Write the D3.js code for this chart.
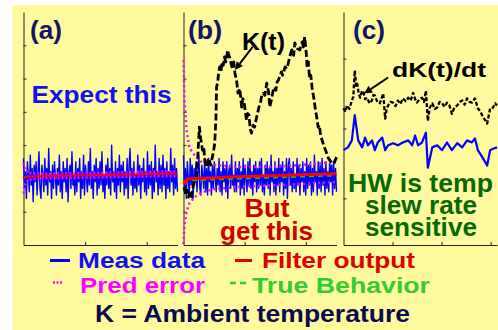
<!DOCTYPE html>
<html>
<head>
<meta charset="utf-8">
<script src="https://cdn.jsdelivr.net/npm/d3@7"></script>
<style>
  body { margin: 0; background: #fff; }
  svg { display: block; }
  text { font-family: "Liberation Sans", Arial, sans-serif; font-weight: bold; }
</style>
</head>
<body>
<div id="chart"></div>
<script>
// panel (a): expected behaviour
const measA = [0.6,-0.3,0.2,-0.6,0.5,0.1,-0.4,0.7,-0.2,0.3,-0.7,0.4,-0.1,0.5,-0.5,0.2,0.8,-0.3,-0.6,0.4,
  0.1,-0.4,0.6,-0.2,0.3,-0.5,0.9,-0.1,0.2,-0.6,0.4,-0.3,0.5,0.0,-0.5,0.3,-0.2,0.7,-0.4,0.2,
  -0.6,0.5,-0.1,0.3,-0.4,0.6,-0.7,0.2,0.4,-0.3,0.8,-0.2,0.1,-0.5,0.5,-0.4,0.3,-0.1,0.6,-0.6,
  0.2,-0.3,0.7,-0.5,0.4,0.0,-0.4,0.5,-0.2,0.9,-0.3,0.2,-0.6,0.4,-0.1,0.6,-0.5,0.3,-0.3,0.5,
  -0.2,0.8,-0.4,0.1,-0.6,0.4,-0.2,0.6,-0.3,0.3,-0.5,1.0,-0.1,0.2,-0.4,0.5,-0.6,0.3,-0.2,0.7,
  -0.4,0.4,-0.1,0.5,-0.5,0.2,-0.3,0.6,-0.6,0.4,0.9,-0.2,0.3,-0.5,0.5,-0.3,0.1,-0.4,0.7,-0.2,
  0.4,-0.6,0.3,-0.1,0.6,-0.4,0.2,-0.5,0.8,-0.3,0.4,-0.2,0.5,-0.6,0.3,-0.4,1.0,-0.1,0.2,-0.5,
  0.6,-0.3,0.4,-0.4,0.7,-0.2,0.3,-0.6,0.5,-0.3,0.2,-0.4,0.9,-0.1,0.4,-0.5,0.6,-0.3,0.3,-0.4];
const envT_A = [0, 3, 8, 15, 30, 60, 100, 150, 200, 250];
const predUpA = [0.45, 0.25, 0.17, 0.15, 0.14, 0.15, 0.16, 0.18, 0.2, 0.21];
const predLoA = [-0.45, -0.15, -0.05, -0.02, 0, 0.01, 0.02, 0.04, 0.06, 0.07];
const filtA = [0, 0.05, 0.06, 0.06, 0.07, 0.08, 0.09, 0.11, 0.13, 0.14];

// panel (b): what we got
const measB = [0.7,-0.4,0.3,-0.6,0.5,0.0,-0.5,0.6,-0.2,0.4,-0.6,0.3,-0.1,0.5,-0.4,0.2,0.7,-0.3,-0.5,0.4,
  0.1,-0.3,0.6,-0.4,0.3,-0.5,0.6,-0.1,0.2,-0.5,0.4,-0.3,0.5,0.0,-0.4,0.3,-0.2,0.6,-0.4,0.2,
  -0.5,0.5,-0.1,0.3,-0.4,0.5,-0.6,0.2,0.4,-0.3,0.7,-0.2,0.1,-0.4,0.5,-0.4,0.3,-0.1,0.5,-0.5,
  0.2,-0.3,0.6,-0.5,0.4,0.0,-0.4,0.5,-0.2,0.6,-0.3,0.2,-0.5,0.4,-0.1,0.5,-0.4,0.3,-0.3,0.5,
  -0.2,0.6,-0.4,0.1,-0.5,0.4,-0.2,0.5,-0.3,0.3,-0.5,0.7,-0.1,0.2,-0.4,0.5,-0.5,0.3,-0.2,0.6,
  -0.4,0.4,-0.1,0.5,-0.5,0.2,-0.3,0.6,-0.6,0.4,0.6,-0.2,0.3,-0.4,0.5,-0.3,0.1,-0.4,0.6,-0.2,
  0.4,-0.5,0.3,-0.1,0.5,-0.4,0.2,-0.5,0.6,-0.3,0.4,-0.2,0.5,-0.5,0.3,-0.4,0.7,-0.1,0.2,-0.5,
  0.5,-0.3,0.4,-0.4,0.6,-0.2,0.3,-0.5,0.5,-0.3,0.2,-0.4,0.6,-0.1,0.4,-0.5,0.5,-0.3,0.3,-0.4];
const kT = [1, 4, 6, 8, 10, 13, 15, 18, 21, 23, 24, 26, 28, 29, 31, 33, 35, 38, 40, 42, 44, 46, 49, 51, 53, 54,
  56, 57, 59, 61, 63, 65, 67, 69, 70, 72, 74, 76, 79, 82, 84, 87, 89, 92, 95, 97, 99, 101, 103, 105, 107,
  109, 111, 114, 116, 119, 121, 124, 126, 128, 130, 133, 136, 139, 141, 143, 145, 147, 149, 151, 153, 155,
  157, 160, 162, 166, 169, 173, 175, 177, 180, 182, 184, 186, 190, 194, 196, 198, 200, 202, 204, 206, 208,
  210, 213, 215, 218, 220, 222, 224, 228, 231, 234, 237, 239, 243, 246, 250];
const kVal = [-0.26, -0.5, -0.35, -0.56, -0.45, -0.6, -0.3, -0.1, 0.04, 0.5, 0.9, 1.54, 1.2, 1.1, 0.85, 0.95,
  0.5, 0.34, 0.55, 0.6, 0.4, 0.55, 0.8, 1.06, 1.8, 2.74, 2.9, 3.1, 3.35, 3.2, 3.5, 3.4, 3.65, 3.5, 3.55,
  3.86, 3.7, 3.6, 3.35, 3.5, 3.17, 2.9, 2.56, 2.7, 2.14, 2.4, 2.3, 2.0, 1.75, 1.95, 1.9, 1.5, 1.36, 1.6,
  1.54, 1.8, 1.96, 2.2, 2.3, 2.5, 2.56, 2.5, 2.86, 2.6, 2.14, 2.3, 2.5, 2.7, 2.74, 2.65, 2.9, 2.95, 3.05,
  3.2, 3.1, 3.35, 3.3, 3.6, 3.75, 3.86, 3.7, 4.07, 3.95, 3.9, 3.86, 4.1, 3.95, 4.25, 3.9, 3.35, 3.5, 3.0,
  3.1, 2.74, 2.4, 2.14, 1.8, 1.54, 1.6, 1.3, 1.06, 0.9, 0.76, 0.6, 0.55, 0.45, 0.46, 0.64];
const envT_B = [0, 1.6, 4.9, 9.8, 18, 31, 51, 92, 108, 157, 190, 250];
const predUpB = [3.55, 2.35, 1.45, 0.91, 0.7, 0.46, 0.4, 0.34, 0.34, 0.36, 0.4, 0.5];
const predLoB = [-1.97, -1.4, -1.0, -0.74, -0.56, -0.41, -0.32, -0.25, -0.23, -0.2, -0.17, -0.11];
const filtT_B = [0, 3, 6, 50, 100, 150, 200, 250];
const filtB = [-0.1, -0.15, -0.02, 0.02, 0.06, 0.09, 0.12, 0.14];
const trueB = [-0.1, -0.1, -0.06, -0.03, 0.0, 0.03, 0.06, 0.09];

// panel (c): hardware output vs temperature slew rate
const cT = [0, 9, 17, 23, 30, 38, 44, 50, 58, 64, 70, 79, 85, 91, 101, 111, 121, 132, 140, 146, 152, 160,
  168, 172, 181, 191, 201, 211, 221, 232, 242, 252, 262, 268, 274, 283, 293, 299, 305, 313];
const hwC = [0.69, 0.73, 0.83, 1.19, 0.83, 0.73, 0.87, 0.76, 0.83, 0.69, 0.8, 0.87, 0.69, 0.76, 0.79, 0.76,
  0.8, 0.83, 0.76, 0.9, 0.76, 0.8, 0.94, 0.44, 0.73, 0.76, 0.69, 0.8, 0.69, 0.79, 0.73, 0.83, 0.8, 0.86,
  0.69, 0.59, 0.47, 0.69, 0.71, 0.73];
const dkT = [0, 4, 7, 12, 17, 20, 23, 26, 28, 31, 34, 37, 40, 44, 48, 53, 58, 61, 64, 69, 74, 78, 81, 85,
  88, 91, 96, 101, 106, 111, 116, 121, 127, 132, 137, 142, 146, 150, 155, 160, 164, 168, 172, 176, 181,
  186, 191, 196, 201, 206, 211, 216, 221, 226, 232, 237, 242, 247, 252, 257, 262, 268, 274, 279, 285, 289,
  293, 299, 305, 309, 313];
const dkC = [1.29, 1.24, 1.33, 1.28, 1.4, 1.45, 1.83, 1.6, 1.64, 1.5, 1.44, 1.52, 1.54, 1.42, 1.44, 1.36,
  1.4, 1.48, 1.47, 1.38, 1.36, 1.44, 1.5, 1.14, 1.28, 1.33, 1.38, 1.37, 1.32, 1.4, 1.35, 1.43, 1.39, 1.44,
  1.4, 1.51, 1.42, 1.37, 1.42, 1.44, 1.38, 1.54, 1.11, 1.3, 1.36, 1.28, 1.3, 1.38, 1.36, 1.31, 1.37,
  1.33, 1.21, 1.3, 1.33, 1.38, 1.4, 1.34, 1.43, 1.38, 1.37, 1.43, 1.29, 1.24, 1.16, 1.12, 1.07, 1.29,
  1.3, 1.36, 1.33];

const W = 498, H = 330;
const navy = '#141464';

const svg = d3.select('#chart')
  .append('svg')
  .attr('width', W)
  .attr('height', H);

svg.append('rect')
  .attr('x', 12.5).attr('y', 5)
  .attr('width', W - 12.5).attr('height', H - 5)
  .attr('fill', '#fffa9e');

const plotTop = 12, plotBottom = 245;

function makePanel(x0, x1, xMax, xTicks, yDom, yTicks) {
  const x = d3.scaleLinear().domain([0, xMax]).range([x0, x1]);
  const y = d3.scaleLinear().domain(yDom).range([plotBottom, plotTop]);
  const g = svg.append('g');
  g.append('g')
    .attr('transform', `translate(${x0},0)`)
    .call(d3.axisLeft(y).tickValues(yTicks).tickSizeInner(-3).tickSizeOuter(0).tickFormat(''));
  g.append('g')
    .attr('transform', `translate(0,${plotBottom})`)
    .call(d3.axisBottom(x).tickValues(xTicks).tickSizeInner(-3).tickSizeOuter(0).tickFormat(''));
  g.selectAll('.domain, .tick line').attr('stroke', '#222');
  return { x, y, g };
}

function drawLine(p, ts, vs, color, width, dash) {
  const line = d3.line().x((d, i) => p.x(ts[i])).y(d => p.y(d));
  p.g.append('path')
    .datum(vs)
    .attr('d', line)
    .attr('fill', 'none')
    .attr('stroke', color)
    .attr('stroke-width', width)
    .attr('stroke-linejoin', 'round')
    .attr('stroke-dasharray', dash || null);
}

function noiseT(vs, xMax) {
  return vs.map((d, i) => i * xMax / (vs.length - 1));
}

// (a)
const pa = makePanel(23.5, 177.5, 250, [100, 200], [-2, 5], [-1, 0, 1, 2, 3, 4]);
drawLine(pa, noiseT(measA, 250), measA, '#0000ff', 1.4);
drawLine(pa, envT_A, filtA, '#ff0000', 2);
drawLine(pa, envT_A, predUpA, '#ff00ff', 2.5, '2,2');
drawLine(pa, envT_A, predLoA, '#ff00ff', 2.5, '2,2');

// (b)
const pb = makePanel(183.5, 336.5, 250, [100, 200], [-2, 5], [-1, 0, 1, 2, 3, 4]);
drawLine(pb, noiseT(measB, 250), measB, '#0000ff', 1.4);
drawLine(pb, envT_B, predUpB, '#ff00ff', 2.5, '2,3');
drawLine(pb, envT_B, predLoB, '#ff00ff', 2.5, '2,3');
drawLine(pb, kT, kVal, '#000', 2.8, '7,3');
drawLine(pb, filtT_B, trueB, '#22bb22', 2, '5,4');
drawLine(pb, filtT_B, filtB, '#ff0000', 3);

// (c)
const pc = makePanel(343.5, 497, 313, [100, 200, 300], [-2 / 3, 8 / 3], [0, 1, 2]);
drawLine(pc, cT, hwC, '#0000ff', 2.2);
drawLine(pc, dkT, dkC, '#000', 2.3, '4,2');

// text helper
function label(x, y, str, size, color, width, anchor) {
  svg.append('text')
    .attr('x', x).attr('y', y)
    .attr('font-size', size)
    .attr('fill', color)
    .attr('text-anchor', anchor || 'start')
    .attr('textLength', width)
    .attr('lengthAdjust', 'spacingAndGlyphs')
    .text(str);
}

function arrow(p, t0, v0, t1, v1) {
  const xA = p.x(t0), yA = p.y(v0), xB = p.x(t1), yB = p.y(v1);
  const ang = Math.atan2(yB - yA, xB - xA);
  const L = 8, Wd = 4;
  const bx = xB - L * Math.cos(ang), by = yB - L * Math.sin(ang);
  svg.append('line')
    .attr('x1', xA).attr('y1', yA).attr('x2', bx).attr('y2', by)
    .attr('stroke', '#000').attr('stroke-width', 2);
  svg.append('path')
    .attr('d', `M${xB},${yB}L${bx - Wd * Math.sin(ang)},${by + Wd * Math.cos(ang)}L${bx + Wd * Math.sin(ang)},${by - Wd * Math.cos(ang)}Z`)
    .attr('fill', '#000');
}

label(30, 39, '(a)', 26, navy, 32);
label(188, 39, '(b)', 26, navy, 34);
label(353, 39, '(c)', 26, navy, 32);

label(31.5, 103, 'Expect this', 24, '#1010f0', 140);

label(242, 50, 'K(t)', 24, '#000', 43);
arrow(pb, 113, 3.95, 84, 3.26);

label(267, 217, 'But', 26, '#cc0000', 45, 'middle');
label(266.5, 240, 'get this', 26, '#cc0000', 93, 'middle');

label(392, 76.5, 'dK(t)/dt', 21, '#000', 94);
arrow(pc, 91, 1.73, 42, 1.5);

label(420.5, 192, 'HW is temp', 26, '#066906', 145, 'middle');
label(421, 214, 'slew rate', 25, '#066906', 112, 'middle');
label(421, 235.5, 'sensitive', 25, '#066906', 112, 'middle');

// legend
svg.append('line').attr('x1', 50).attr('x2', 70).attr('y1', 260.5).attr('y2', 260.5)
  .attr('stroke', '#0000ff').attr('stroke-width', 3);
label(78, 268.3, 'Meas data', 22, '#1010f0', 127);
svg.append('line').attr('x1', 235).attr('x2', 252).attr('y1', 260.5).attr('y2', 260.5)
  .attr('stroke', '#e00000').attr('stroke-width', 3);
label(262, 268.3, 'Filter output', 22, '#e00000', 153);

svg.append('line').attr('x1', 53).attr('x2', 63).attr('y1', 282.5).attr('y2', 282.5)
  .attr('stroke', '#ff00ff').attr('stroke-width', 2.5).attr('stroke-dasharray', '2,1.5');
label(80, 293.3, 'Pred error', 22, '#ff00ff', 125);
svg.append('line').attr('x1', 230).attr('x2', 248).attr('y1', 283).attr('y2', 283)
  .attr('stroke', '#33cc33').attr('stroke-width', 2.5).attr('stroke-dasharray', '6,4');
label(252, 293.3, 'True Behavior', 22, '#33cc33', 178);

label(95, 322, 'K = Ambient temperature', 23, '#0a0a50', 315);
</script>
</body>
</html>
